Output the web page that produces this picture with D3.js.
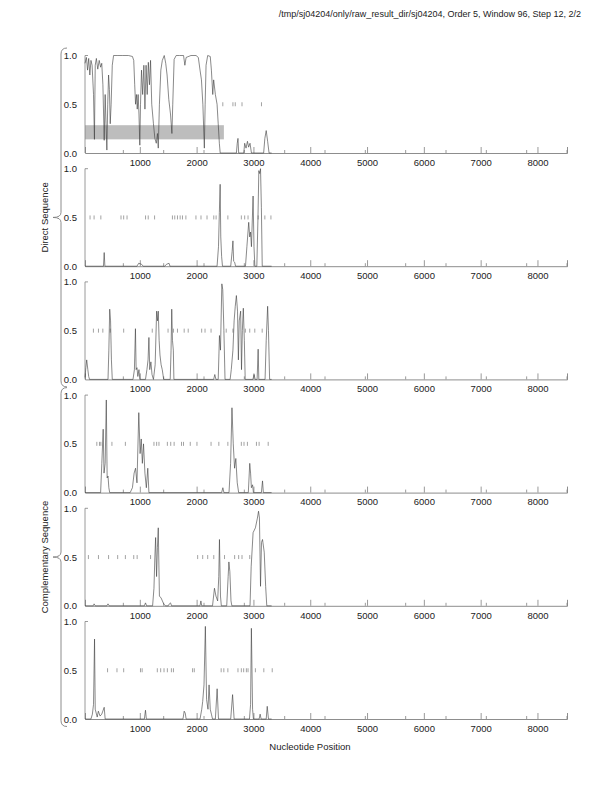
<!DOCTYPE html>
<html lang="en">
<head>
<meta charset="UTF-8">
<title>Nucleotide Position</title>
<script src="https://cdn.jsdelivr.net/npm/d3@7"></script>
<style>
  body { margin: 0; background: #fff; }
  text { font-family: "Liberation Sans", Arial, sans-serif; fill: #222; }
</style>
</head>
<body>
<script>
// values, [position, value]
const panel1Line = [[35,0.92],[60,0.98],[80,0.85],[100,0.97],[120,0.8],[140,0.95],[160,0.9],[185,0.6],[201,0.14],[215,0.9],[235,0.97],[260,0.86],[285,0.95],[310,0.88],[330,0.92],[350,0.7],[373,0.13],[390,0.6],[405,0.3],[420,0.03],[435,0.5],[450,0.8],[465,0.65],[479,0.3],[495,0.5],[515,0.9],[538,1.0],[600,1.0],[700,1.0],[800,1.0],[870,0.99],[893,0.95],[910,0.7],[925,0.5],[940,0.6],[955,0.45],[970,0.6],[985,0.4],[1000,0.08],[1012,0.5],[1030,0.85],[1050,0.6],[1071,0.9],[1090,0.45],[1110,0.9],[1130,0.6],[1150,0.93],[1170,0.7],[1189,0.95],[1210,0.5],[1240,0.3],[1265,0.15],[1290,0.1],[1310,0.2],[1325,0.05],[1345,0.5],[1370,0.85],[1396,0.95],[1430,1.0],[1456,0.92],[1480,0.8],[1510,0.55],[1540,0.4],[1565,0.2],[1580,0.5],[1604,0.96],[1640,1.0],[1700,1.0],[1770,1.0],[1793,0.9],[1815,0.98],[1900,1.0],[1990,1.0],[2030,0.98],[2060,0.85],[2085,0.75],[2110,0.5],[2136,0.05],[2150,0.5],[2166,0.9],[2195,1.0],[2240,0.99],[2260,0.85],[2284,0.6],[2300,0.75],[2330,0.6],[2360,0.5],[2380,0.3],[2400,0.1],[2415,0],[2700,0],[2715,0.1],[2728,0.15],[2740,0],[2830,0],[2846,0.1],[2870,0.05],[2895,0.12],[2915,0.06],[2940,0.1],[2965,0],[3180,0],[3201,0.15],[3225,0.23],[3250,0.12],[3275,0],[3320,0]];
const panel2Line = [[35,0],[330,0],[360,0],[373,0.14],[385,0],[950,0],[980,0.03],[1030,0.02],[1060,0],[1440,0],[1470,0.02],[1515,0.03],[1530,0],[2360,0],[2385,0.2],[2400,0.55],[2414,0.84],[2425,0.3],[2440,0.1],[2455,0],[2600,0],[2625,0.15],[2639,0.26],[2652,0.05],[2670,0.04],[2685,0],[2860,0],[2885,0.2],[2917,0.45],[2935,0.3],[2950,0.35],[2965,0.2],[2994,0.72],[3010,0.2],[3025,0],[3060,0],[3080,0.5],[3095,0.98],[3110,0.95],[3125,1.0],[3140,0.6],[3155,0],[3320,0]];
const panel3Line = [[35,0.02],[50,0.12],[65,0.2],[85,0.1],[100,0.03],[115,0],[440,0],[455,0.3],[470,0.72],[485,0.6],[500,0.2],[515,0],[880,0],[905,0.1],[923,0.52],[935,0.1],[950,0.12],[965,0.03],[985,0.1],[1000,0],[1100,0],[1125,0.1],[1145,0.2],[1160,0.43],[1175,0.1],[1195,0.18],[1215,0.05],[1240,0],[1270,0.15],[1296,0.7],[1310,0.6],[1325,0.7],[1340,0.4],[1355,0.25],[1375,0.15],[1395,0.1],[1420,0],[1535,0],[1550,0.3],[1562,0.72],[1575,0.4],[1590,0.3],[1600,0],[2300,0],[2320,0.05],[2340,0],[2380,0],[2402,0.45],[2420,0.3],[2444,0.98],[2460,0.92],[2480,0.5],[2500,0],[2590,0],[2610,0.1],[2639,0.3],[2660,0.6],[2680,0.75],[2700,0.86],[2720,0.7],[2735,0.2],[2750,0.6],[2775,0.7],[2790,0.1],[2805,0.5],[2822,0.73],[2840,0.4],[2855,0],[2990,0],[3012,0.05],[3030,0],[3065,0],[3083,0.31],[3095,0],[3205,0],[3225,0.4],[3250,0.75],[3265,0.5],[3285,0],[3320,0]];
const panel4Line = [[35,0],[310,0],[331,0.3],[355,0.65],[370,0.2],[390,0.3],[410,0.95],[425,0.15],[440,0.17],[455,0.05],[470,0],[830,0],[870,0.05],[900,0.2],[925,0.25],[950,0.1],[982,0.82],[1005,0.4],[1025,0.55],[1045,0.3],[1065,0.5],[1090,0.2],[1115,0.05],[1140,0.25],[1160,0],[2440,0],[2462,0.05],[2480,0],[2570,0],[2598,0.3],[2622,0.87],[2645,0.5],[2668,0.25],[2690,0.35],[2715,0.1],[2740,0],[2910,0],[2935,0.3],[2950,0.2],[2964,0.05],[2985,0.08],[3000,0],[3140,0],[3160,0.12],[3175,0],[3320,0]];
const panel5Line = [[35,0],[180,0],[195,0.02],[215,0],[420,0],[440,0.02],[460,0],[1080,0],[1100,0.03],[1120,0],[1225,0],[1249,0.18],[1265,0.5],[1278,0.7],[1295,0.3],[1310,0.6],[1325,0.8],[1345,0.1],[1375,0.08],[1420,0.02],[1450,0],[1500,0],[1520,0.02],[1540,0.03],[1560,0],[2060,0],[2075,0.05],[2090,0],[2280,0],[2314,0.18],[2340,0.1],[2370,0.05],[2390,0.3],[2402,0.68],[2420,0.1],[2435,0],[2530,0],[2555,0.3],[2568,0.45],[2585,0.35],[2605,0.05],[2620,0],[2940,0],[2960,0.4],[2994,0.75],[3035,0.8],[3070,0.9],[3090,0.97],[3106,0.9],[3125,0.2],[3142,0.65],[3160,0.68],[3190,0.55],[3215,0.2],[3235,0],[3320,0]];
const panel6Line = [[35,0],[140,0],[165,0.05],[185,0.15],[203,0.82],[215,0.1],[250,0.02],[270,0.08],[300,0.03],[330,0.05],[373,0.12],[390,0],[1080,0],[1100,0.09],[1115,0],[1760,0],[1781,0.08],[1800,0.06],[1815,0],[2060,0],[2090,0.1],[2107,0.18],[2130,0.35],[2154,0.95],[2175,0.2],[2200,0.1],[2219,0.35],[2240,0.1],[2260,0.05],[2280,0],[2330,0],[2361,0.31],[2385,0],[2600,0],[2633,0.25],[2660,0],[2930,0],[2950,0.15],[2964,0.93],[2985,0.1],[3000,0],[3100,0],[3118,0.05],[3135,0],[3225,0],[3243,0.13],[3265,0],[3320,0]];

// little gray marks on the 0.5 line
const panel1Marks = [2461,2639,2680,2799,3142];
const panel2Marks = [124,195,314,669,716,775,1101,1148,1260,1574,1615,1663,1710,1751,1811,1988,2077,2183,2302,2343,2550,2787,2846,2905,3083,3201,3308];
const panel3Marks = [183,272,349,479,716,1219,1497,1592,1663,1781,1852,2089,2148,2254,2521,2639,2858,2935,3024,3154];
const panel4Marks = [243,290,314,509,746,1249,1296,1337,1485,1544,1604,1734,1769,1888,2006,2254,2391,2550,2787,2834,2894,3053,3100,3260];
const panel5Marks = [95,272,450,610,746,893,953,1189,2018,2107,2195,2302,2491,2669,2740,2799,2935];
const panel6Marks = [432,598,716,1012,1041,1308,1367,1426,1485,1556,1592,1929,1959,2432,2479,2550,2728,2787,2828,2876,2905,3035,3183,3331];

// gray band in the first panel: [x0, x1, y0, y1]
const bandRange = [35, 2480, 0.14, 0.285];

const xTicks = [1000,2000,3000,4000,5000,6000,7000,8000];
const xMinorTicks = [710,1420,2130,2840,3550,4260,4970,5680,6390,7100,7810,8520];
const yTicks = [0, 0.5, 1.0];
const groups = [
  {label: 'Direct Sequence', first: 0, last: 2},
  {label: 'Complementary Sequence', first: 3, last: 5}
];
const titleText = '/tmp/sj04204/only/raw_result_dir/sj04204, Order 5, Window 96, Step 12, 2/2';

const lines = [panel1Line, panel2Line, panel3Line, panel4Line, panel5Line, panel6Line];
const marks = [panel1Marks, panel2Marks, panel3Marks, panel4Marks, panel5Marks, panel6Marks];

const width = 612, height = 792;
const left = 85, right = 567;
const panelTop = 55.5, panelStep = 113.2, panelH = 97.5;
const axisColor = '#808080';

const svg = d3.select('body').append('svg')
  .attr('width', width)
  .attr('height', height);

svg.append('rect').attr('width', width).attr('height', height).attr('fill', '#fff');

const x = d3.scaleLinear().domain([35, 8520]).range([left, right]);

svg.append('text')
  .attr('x', 581).attr('y', 17)
  .attr('text-anchor', 'end')
  .attr('font-size', 9)
  .text(titleText);

lines.forEach((data, i) => {
  const top = panelTop + i * panelStep;
  const y = d3.scaleLinear().domain([0, 1]).range([top + panelH, top]);
  const g = svg.append('g');

  if (i === 0) {
    g.append('rect')
      .attr('x', x(bandRange[0]))
      .attr('width', x(bandRange[1]) - x(bandRange[0]))
      .attr('y', y(bandRange[3]))
      .attr('height', y(bandRange[2]) - y(bandRange[3]))
      .attr('fill', '#bdbdbd');
  }

  // marks on the 0.5 line
  g.selectAll('line.mark')
    .data(marks[i])
    .enter().append('line')
    .attr('class', 'mark')
    .attr('x1', d => x(d)).attr('x2', d => x(d))
    .attr('y1', y(0.5) - 2).attr('y2', y(0.5) + 2)
    .attr('stroke', '#8c8c8c')
    .attr('stroke-width', 0.8);

  // y axis
  g.append('line')
    .attr('x1', left).attr('x2', left)
    .attr('y1', y(0)).attr('y2', y(1))
    .attr('stroke', axisColor).attr('stroke-width', 0.8);
  g.append('line')
    .attr('x1', left).attr('x2', left + 3)
    .attr('y1', y(1)).attr('y2', y(1))
    .attr('stroke', axisColor).attr('stroke-width', 0.8);
  g.selectAll('text.ylab')
    .data(yTicks)
    .enter().append('text')
    .attr('class', 'ylab')
    .attr('x', left - 8)
    .attr('y', d => y(d) + 3.5)
    .attr('text-anchor', 'end')
    .attr('font-size', 9.5)
    .text(d => d.toFixed(1));

  // x axis
  const xAxis = d3.axisBottom(x)
    .tickValues(xTicks)
    .tickSize(-6)
    .tickPadding(6)
    .tickFormat(d3.format('d'));
  const ax = g.append('g')
    .attr('transform', `translate(0,${y(0)})`)
    .call(xAxis);
  ax.select('.domain').attr('stroke', axisColor).attr('stroke-width', 0.9);
  ax.selectAll('.tick line').attr('stroke', axisColor).attr('stroke-width', 0.8);
  ax.selectAll('.tick text')
    .attr('font-size', 9.5)
    .attr('font-family', '"Liberation Sans", Arial, sans-serif')
    .attr('fill', '#222');
  ax.selectAll('line.minor')
    .data(xMinorTicks)
    .enter().append('line')
    .attr('class', 'minor')
    .attr('x1', d => x(d)).attr('x2', d => x(d))
    .attr('y1', 0).attr('y2', -3)
    .attr('stroke', axisColor).attr('stroke-width', 0.8);

  const line = d3.line()
    .x(d => x(d[0]))
    .y(d => y(d[1]));

  g.append('path')
    .datum(data)
    .attr('d', line)
    .attr('fill', 'none')
    .attr('stroke', '#3a3a3a')
    .attr('stroke-width', 0.6);
});

// braces on the left
groups.forEach(gr => {
  const top = panelTop + gr.first * panelStep - 7.5;
  const bot = panelTop + gr.last * panelStep + panelH + 7.5;
  const mid = (top + bot) / 2;
  const bx = 61, hx = 67, tx = 53;
  const p = d3.path();
  p.moveTo(hx, top);
  p.quadraticCurveTo(bx, top, bx, top + 6);
  p.lineTo(bx, mid - 5);
  p.quadraticCurveTo(bx, mid, tx, mid);
  p.quadraticCurveTo(bx, mid, bx, mid + 5);
  p.lineTo(bx, bot - 6);
  p.quadraticCurveTo(bx, bot, hx, bot);
  svg.append('path')
    .attr('d', p.toString())
    .attr('fill', 'none')
    .attr('stroke', axisColor)
    .attr('stroke-width', 0.9);

  svg.append('text')
    .attr('transform', `translate(48,${mid}) rotate(-90)`)
    .attr('text-anchor', 'middle')
    .attr('font-size', 9.5)
    .text(gr.label);
});

svg.append('text')
  .attr('x', 310).attr('y', 750)
  .attr('text-anchor', 'middle')
  .attr('font-size', 9.5)
  .text('Nucleotide Position');
</script>
</body>
</html>
